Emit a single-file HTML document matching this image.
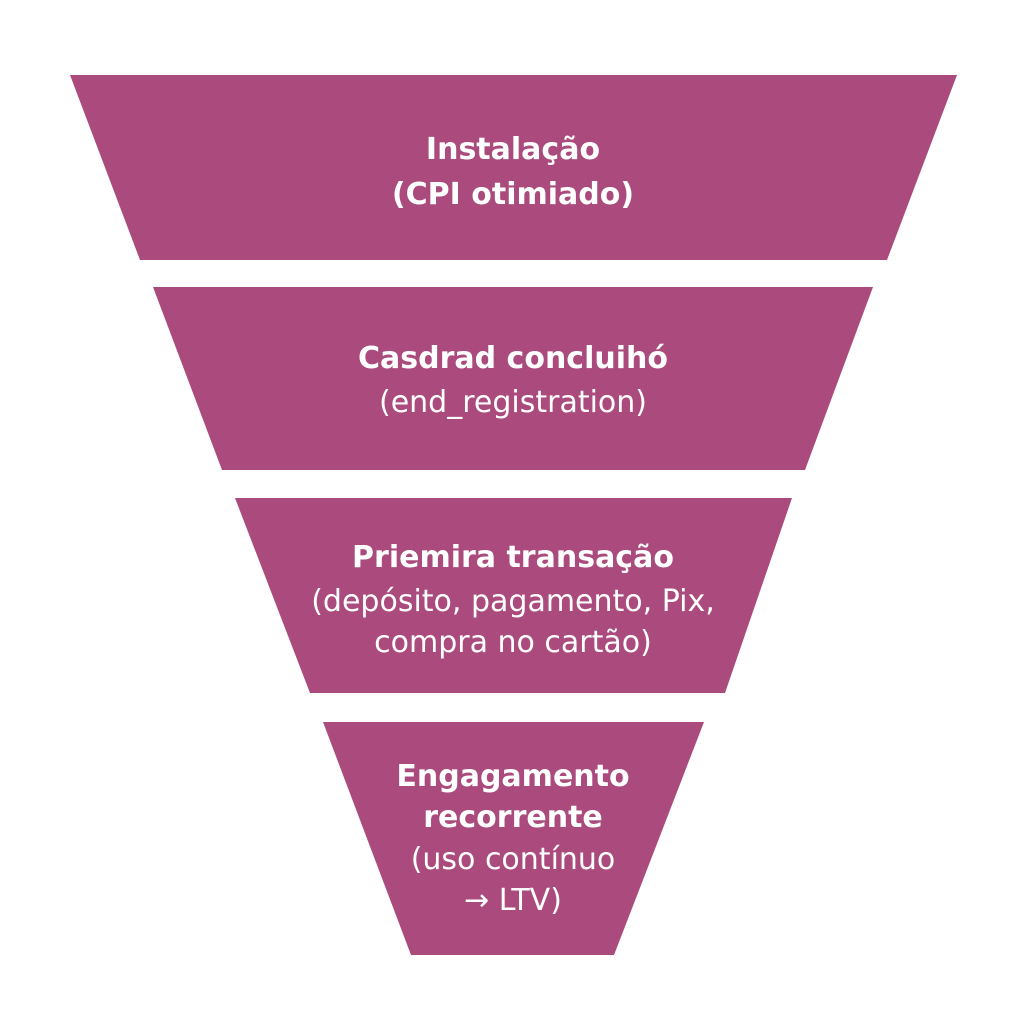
<!DOCTYPE html>
<html><head><meta charset="utf-8"><style>
body{margin:0;background:#fff;width:1024px;height:1024px;overflow:hidden}
svg{display:block}
text{font-family:"DejaVu Sans","Liberation Sans",sans-serif;fill:#fff;text-anchor:middle}
.b{font-weight:bold;font-size:30px}
.r{font-size:30px}
</style></head><body>
<svg width="1024" height="1024" viewBox="0 0 1024 1024">
<g fill="#ab4a7c">
<polygon points="70,75 957,75 887,260 140,260"/>
<polygon points="153,287 873,287 805,470 222,470"/>
<polygon points="235,498 792,498 725,693 310,693"/>
<polygon points="323,722 704,722 614,955 411,955"/>
</g>
<text class="b" x="513" y="159">Instalação</text>
<text class="b" x="513" y="204">(CPI otimiado)</text>
<text class="b" x="513" y="368">Casdrad concluihó</text>
<text class="r" x="513" y="412">(end_registration)</text>
<text class="b" x="513" y="567">Priemira transação</text>
<text class="r" x="513" y="611">(depósito, pagamento, Pix,</text>
<text class="r" x="513" y="652">compra no cartão)</text>
<text class="b" x="513" y="786">Engagamento</text>
<text class="b" x="513" y="827">recorrente</text>
<text class="r" x="513" y="869">(uso contínuo</text>
<text class="r" x="513" y="910">→ LTV)</text>
</svg>
</body></html>
